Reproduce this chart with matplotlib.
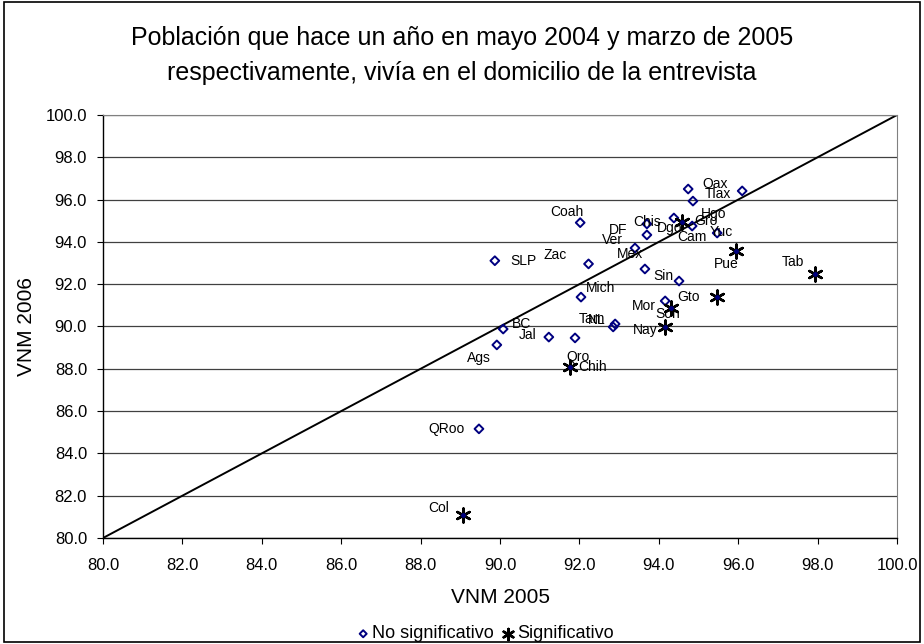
import matplotlib
matplotlib.use("Agg")
import matplotlib.pyplot as plt
from matplotlib.patches import Rectangle
from matplotlib.ticker import FormatStrFormatter

plt.rcParams['font.family'] = ['Liberation Sans', 'DejaVu Sans']

# datos: no significativo
ns_lab = ['Oax', 'Tlax', 'Hgo', 'Dgo', 'Cam', 'Yuc', 'Chis', 'DF', 'Ver', 'Mex',
          'Coah', 'SLP', 'Zac', 'Sin', 'Mich', 'Mor', 'Tam', 'NL', 'BC', 'Jal',
          'Qro', 'Ags', 'QRoo']
ns_x = [94.74, 96.10, 94.86, 94.38, 94.84, 95.47, 93.70, 93.70, 93.40, 93.65,
        92.02, 89.87, 92.23, 94.51, 92.04, 94.16, 92.85, 92.90, 90.08, 91.23,
        91.89, 89.92, 89.47]
ns_y = [96.50, 96.41, 95.93, 95.13, 94.75, 94.42, 94.85, 94.33, 93.71, 92.72,
        94.91, 93.11, 92.96, 92.15, 91.39, 91.21, 89.98, 90.12, 89.88, 89.50,
        89.46, 89.13, 85.16]

# datos: significativo
s_lab = ['Gro', 'Pue', 'Tab', 'Gto', 'Son', 'Nay', 'Chih', 'Col']
s_x = [94.58, 95.95, 97.93, 95.47, 94.31, 94.16, 91.76, 89.07]
s_y = [94.94, 93.57, 92.48, 91.39, 90.87, 89.98, 88.09, 81.09]

# posicion de etiquetas (pixeles, y hacia abajo)
offs = {'Oax': (27, -5), 'Tlax': (-24, 3), 'Hgo': (21, 13), 'Dgo': (-4, 10),
        'Gro': (24, -1), 'Cam': (0, 11), 'Yuc': (4, -1), 'Chis': (0, -2),
        'DF': (-29, -5), 'Ver': (-23, -8), 'Mex': (-15, -15), 'Coah': (-13, -11),
        'SLP': (29, 0), 'Zac': (-33, -9), 'Sin': (-16, -5), 'Pue': (-10, 13),
        'Tab': (-22, -12), 'Mich': (20, -9), 'Gto': (-29, 0), 'Mor': (-21, 5),
        'Son': (-3, 6), 'Tam': (-21, -8), 'NL': (-18, -4), 'Nay': (-20, 3),
        'BC': (18, -5), 'Jal': (-21, -2), 'Qro': (3, 19), 'Ags': (-18, 13),
        'Chih': (23, 0), 'QRoo': (-32, 0), 'Col': (-24, -7)}

fig = plt.figure(figsize=(9.24, 6.44), dpi=100)
ax = fig.add_axes([103/924, 1-538/644, 794/924, 423/644])

ax.plot([80, 100], [80, 100], color='black', lw=1.4, zorder=2)
ax.scatter(ns_x, ns_y, marker='D', s=20, facecolors='none', edgecolors='#000080',
           linewidths=1.4, zorder=3, label='No significativo')
ax.scatter(s_x, s_y, marker=(6, 2, 0), s=100, color='black', linewidths=1.8,
           zorder=4, label='Significativo')
ax.scatter(s_x, s_y, marker='o', s=6, color='#000080', zorder=5)

for l, x, y in zip(ns_lab + s_lab, ns_x + s_x, ns_y + s_y):
    dx, dy = offs[l]
    ax.annotate(l, (x, y), xytext=(dx, -dy), textcoords='offset pixels',
                ha='center', va='center', fontsize=10, zorder=6)

ax.set_xlim(80, 100)
ax.set_ylim(80, 100)
ax.set_xticks(range(80, 101, 2))
ax.set_yticks(range(80, 101, 2))
ax.xaxis.set_major_formatter(FormatStrFormatter('%.1f'))
ax.yaxis.set_major_formatter(FormatStrFormatter('%.1f'))
ax.tick_params(labelsize=12, length=4.5, width=0.8)
ax.tick_params(axis='x', pad=10)
ax.tick_params(axis='y', pad=7)
ax.grid(axis='y', color='#404040', lw=0.9)
ax.set_axisbelow(True)
for s in ['top', 'right']:
    ax.spines[s].set_color('#808080')
ax.spines['left'].set_linewidth(1)
ax.spines['bottom'].set_linewidth(1)

ax.set_xlabel('VNM 2005', fontsize=15, labelpad=11)
ax.set_ylabel('VNM 2006', fontsize=15, labelpad=7)

fig.text(0.5, 1-38/644, 'Población que hace un año en mayo 2004 y marzo de 2005',
         ha='center', va='center', fontsize=18)
fig.text(0.5, 1-73/644, 'respectivamente, vivía en el domicilio de la entrevista',
         ha='center', va='center', fontsize=18)

fig.legend(loc='center', bbox_to_anchor=(485/924, 1-634/644), ncol=2, frameon=False,
           fontsize=13, handlelength=0.8, handletextpad=0.1, columnspacing=0.4,
           borderpad=0, markerscale=0.8)

fig.add_artist(Rectangle((4/924, 2/644), 1-8/924, 1-4/644, transform=fig.transFigure,
                         fill=False, edgecolor='black', lw=1.2))

fig.savefig('out.png', dpi=100)
